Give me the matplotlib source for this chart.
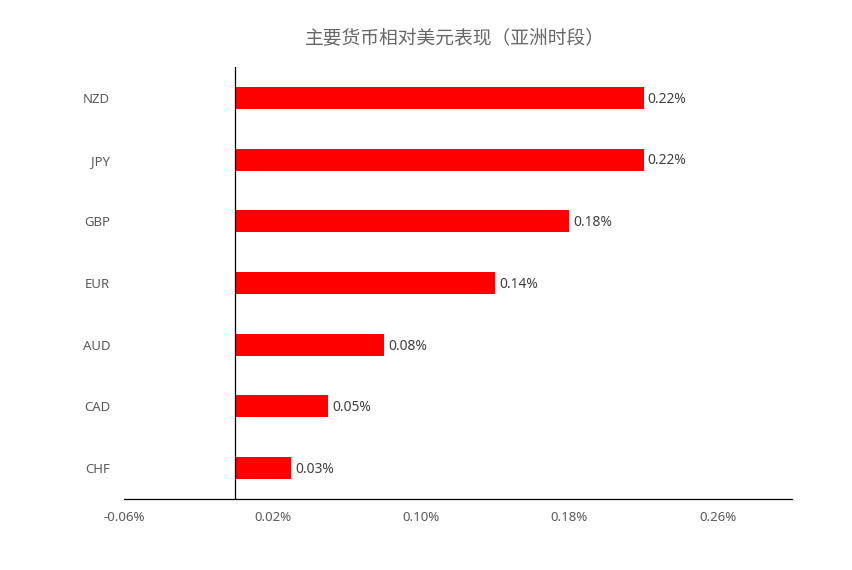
import matplotlib
matplotlib.use('Agg')
import matplotlib.pyplot as plt
import numpy as np

plt.rcParams['font.family'] = ['Noto Sans', 'Noto Sans CJK SC', 'DejaVu Sans']

title = '主要货币相对美元表现（亚洲时段）'
currencies = ['NZD', 'JPY', 'GBP', 'EUR', 'AUD', 'CAD', 'CHF']
changes = [0.22, 0.22, 0.18, 0.14, 0.08, 0.05, 0.03]
x_ticks = [-0.06, 0.02, 0.10, 0.18, 0.26]

fig = plt.figure(figsize=(8.53, 5.70), dpi=100)
ax = fig.add_axes([0.1454, 0.1246, 0.7831, 0.7579])

ypos = np.arange(len(currencies))[::-1]
ax.barh(ypos, changes, height=0.355, color='#FF0000', zorder=2)

for y, v in zip(ypos, changes):
    ax.annotate(f'{v:.2f}%', xy=(v, y), xytext=(3, -1), textcoords='offset points',
                va='center', ha='left', fontsize=10, color='#404040')

ax.axvline(0, color='black', lw=0.9, zorder=3)

ax.set_xlim(-0.06, 0.30)
ax.set_ylim(-0.5, 6.5)
ax.set_xticks(x_ticks)
ax.set_xticklabels([f'{t:.2f}%' for t in x_ticks])
ax.set_yticks(ypos)
ax.set_yticklabels(currencies)
ax.tick_params(axis='both', length=0, labelsize=9.5, labelcolor='#595959')
ax.tick_params(axis='x', pad=9)
ax.tick_params(axis='y', pad=10)

for s in ['top', 'right', 'left']:
    ax.spines[s].set_visible(False)
ax.spines['bottom'].set_color('black')
ax.spines['bottom'].set_linewidth(0.9)

fig.text(455 / 853, 1 - 38 / 570, title, ha='center', va='center',
         fontsize=13.5, color='#666666', family=['Noto Sans CJK SC', 'DejaVu Sans'])

fig.savefig('out.png', dpi=100)
